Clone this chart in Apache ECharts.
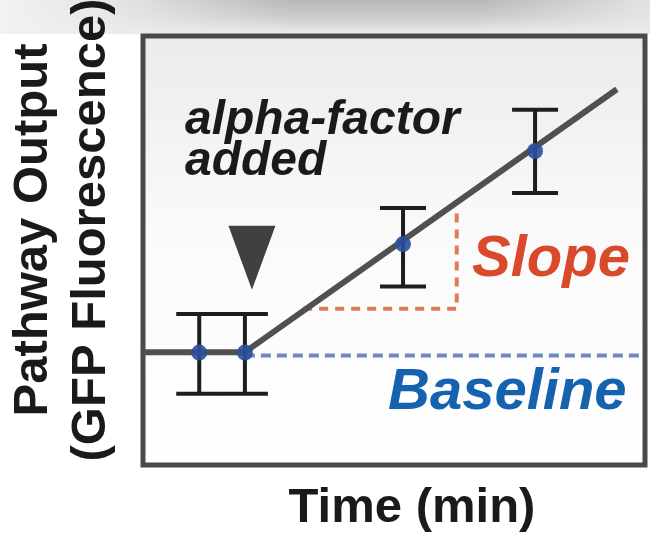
<!DOCTYPE html>
<html>
<head>
<meta charset="utf-8">
<script src="https://cdn.jsdelivr.net/npm/echarts@6/dist/echarts.min.js"></script>
<style>html,body{margin:0;padding:0;background:#fff}#c{width:650px;height:534px}</style>
</head>
<body>
<div id="c"></div>
<script>
// Time (arbitrary units, 0-100) and pathway output (arbitrary units, 0-100)
const timePoints = [11.2, 20.3, 51.8, 78.1];
const meanOutput = [26.2, 26.2, 51.5, 73.2];
const errLow = [16.6, 16.6, 41.6, 63.4];
const errHigh = [35.2, 35.2, 59.9, 82.8];
const fitX = [0, 20.3, 94.4];
const fitY = [26.3, 26.3, 87.6];
const baselineX = [20.3, 100];
const baselineY = [25.5, 25.5];
const slopeX = [31.9, 62.5, 62.5];
const slopeY = [36.4, 36.4, 59.4];
const stimulusX = [21.7];
const stimulusY = [48.3];
const annotationText = ['alpha-factor', 'added'];
const slopeLabel = 'Slope';
const baselineLabel = 'Baseline';
const xTitle = 'Time (min)';
const yTitle = ['Pathway Output', '(GFP Fluorescence)'];

const FONT = '"Liberation Sans", Arial, sans-serif';
const chart = echarts.init(document.getElementById('c'), null, {renderer: 'canvas'});

const zip = (a, b) => a.map((v, i) => [v, b[i]]);

chart.setOption({
  animation: false,
  backgroundColor: '#ffffff',
  grid: {
    left: 143, right: 5, top: 36, bottom: 69,
    show: true,
    borderColor: '#4a4a4a',
    borderWidth: 5,
    backgroundColor: new echarts.graphic.LinearGradient(0, 0, 0, 1, [
      {offset: 0, color: '#ebebeb'},
      {offset: 0.45, color: '#fafafa'},
      {offset: 1, color: '#ffffff'}
    ])
  },
  xAxis: {
    type: 'value', min: 0, max: 100,
    axisLine: {show: false}, axisTick: {show: false},
    axisLabel: {show: false}, splitLine: {show: false}
  },
  yAxis: {
    type: 'value', min: 0, max: 100,
    axisLine: {show: false}, axisTick: {show: false},
    axisLabel: {show: false}, splitLine: {show: false}
  },
  graphic: [
    {
      type: 'rect', z: -10, silent: true,
      shape: {x: 0, y: 0, width: 650, height: 34},
      style: {
        fill: new echarts.graphic.LinearGradient(0, 0, 0, 1, [
          {offset: 0, color: '#b8b8b8'},
          {offset: 0.5, color: '#cccccc'},
          {offset: 1, color: '#ededed'}
        ])
      }
    },
    {
      type: 'rect', z: -9, silent: true,
      shape: {x: 0, y: 0, width: 290, height: 34},
      style: {
        fill: new echarts.graphic.LinearGradient(0, 0, 1, 0, [
          {offset: 0, color: 'rgba(242,242,242,1)'},
          {offset: 0.4, color: 'rgba(236,236,236,0.85)'},
          {offset: 1, color: 'rgba(236,236,236,0)'}
        ])
      }
    },
    {
      type: 'rect', z: -9, silent: true,
      shape: {x: 480, y: 0, width: 170, height: 34},
      style: {
        fill: new echarts.graphic.LinearGradient(0, 0, 1, 0, [
          {offset: 0, color: 'rgba(236,236,236,0)'},
          {offset: 1, color: 'rgba(236,236,236,0.8)'}
        ])
      }
    },
    {
      type: 'text', z: 100,
      x: 185, y: 121,
      style: {text: annotationText[0], font: 'italic bold 48px ' + FONT, fill: '#1a1a1a', align: 'left', verticalAlign: 'middle'}
    },
    {
      type: 'text', z: 100,
      x: 185, y: 162,
      style: {text: annotationText[1], font: 'italic bold 48px ' + FONT, fill: '#1a1a1a', align: 'left', verticalAlign: 'middle'}
    },
    {
      type: 'text', z: 100,
      x: 472, y: 260,
      style: {text: slopeLabel, font: 'italic bold 58px ' + FONT, fill: '#d94a2b', align: 'left', verticalAlign: 'middle'}
    },
    {
      type: 'text', z: 100,
      x: 388, y: 393,
      style: {text: baselineLabel, font: 'italic bold 58px ' + FONT, fill: '#1562ae', align: 'left', verticalAlign: 'middle'}
    },
    {
      type: 'text', z: 100,
      x: 412, y: 508,
      style: {text: xTitle, font: 'bold 49px ' + FONT, fill: '#1a1a1a', align: 'center', verticalAlign: 'middle'}
    },
    {
      type: 'text', z: 100,
      x: 62, y: 230, rotation: Math.PI / 2,
      style: {text: yTitle.join('\n'), font: 'bold 49px ' + FONT, lineHeight: 58, fill: '#1a1a1a', align: 'center', verticalAlign: 'middle'}
    }
  ],
  series: [
    {
      type: 'line', data: zip(baselineX, baselineY), symbol: 'none', z: 2,
      lineStyle: {color: '#6b8cba', width: 4, type: [10, 6]}
    },
    {
      type: 'line', data: zip(slopeX, slopeY), symbol: 'none', z: 2,
      lineStyle: {color: '#e07a5a', width: 4, type: [9, 7]}
    },
    {
      type: 'line', data: zip(fitX, fitY), symbol: 'none', z: 3,
      lineStyle: {color: '#505050', width: 6}
    },
    {
      type: 'custom', z: 4,
      data: timePoints.map((t, i) => [t, errLow[i], errHigh[i]]),
      renderItem: function (params, api) {
        const lo = api.coord([api.value(0), api.value(1)]);
        const hi = api.coord([api.value(0), api.value(2)]);
        const hw = 23;
        const style = {stroke: '#1e1e1e', lineWidth: 4};
        return {
          type: 'group',
          children: [
            {type: 'line', shape: {x1: lo[0], y1: lo[1], x2: hi[0], y2: hi[1]}, style: style},
            {type: 'line', shape: {x1: lo[0] - hw, y1: lo[1], x2: lo[0] + hw, y2: lo[1]}, style: style},
            {type: 'line', shape: {x1: hi[0] - hw, y1: hi[1], x2: hi[0] + hw, y2: hi[1]}, style: style}
          ]
        };
      }
    },
    {
      type: 'scatter', z: 5,
      data: zip(timePoints, meanOutput),
      symbolSize: 16,
      itemStyle: {color: '#2c4f9c', opacity: 0.9}
    },
    {
      type: 'scatter', z: 5,
      data: zip(stimulusX, stimulusY),
      symbol: 'triangle', symbolRotate: 180, symbolSize: [47, 64],
      itemStyle: {color: '#111111'}
    }
  ]
});
</script>
</body>
</html>
